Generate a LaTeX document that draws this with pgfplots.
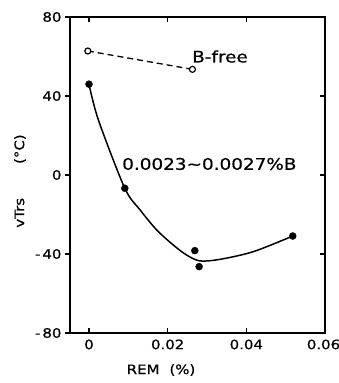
\documentclass[border=0pt]{standalone}
\usepackage{fontspec}
\setmainfont[FakeStretch=1.15, FakeBold=0.6]{DejaVu Sans}
\usepackage{pgfplots}
\pgfplotsset{compat=1.18}
\begin{document}
\begin{tikzpicture}
\path[use as bounding box] (-70pt,-50pt) rectangle (269pt,333pt);
\pgfplotsset{common/.style={
  scale only axis, width=255pt, height=316pt,
  xmin=-0.00483, xmax=0.06, ymin=-80, ymax=80,
  axis line style={line width=1.4pt},
  major tick length=5pt,
  tick style={line width=1.2pt, black},
  tick label style={font=\fontsize{13}{15}\selectfont},
  label style={font=\fontsize{13}{15}\selectfont},
  /pgf/number format/assume math mode=true,
}}
\begin{axis}[common,
  tick align=inside,
  xtick pos=both, ytick pos=right,
  xtick={0,0.02,0.04,0.06}, xticklabels={0,0.02,0.04,\hspace*{-3pt}0.06},
  scaled x ticks=false,
  ytick={-40,0,40}, yticklabels={},
  xticklabel style={yshift=-3pt},
  xlabel={REM\hspace{10pt}(\%)},
  xlabel style={at={(axis description cs:0.357,-0.117)}, anchor=center},
]
% B-free
\addplot[black, line width=1.3pt, dash pattern=on 6pt off 4pt, mark=*, mark size=3pt,
  mark options={solid, fill=white, line width=1.2pt}]
  coordinates {(-0.0003,62.8) (0.0263,53.5)};
% fitted curve
\addplot[black, line width=1.5pt, smooth, tension=0.5, no marks]
  coordinates {(0,46) (0.0024,27.8) (0.0091,-6.7) (0.013,-17.7) (0.0172,-27.8)
  (0.0214,-35.4) (0.0248,-40.5) (0.0282,-43.5) (0.0333,-42.7) (0.0418,-38.8) (0.0518,-30.9)};
% measured points with B
\addplot[only marks, mark=*, mark size=3.5pt, black]
  coordinates {(0,46) (0.0091,-6.7) (0.0269,-38.3) (0.028,-46.4) (0.0518,-30.9)};
\node[font=\fontsize{16}{18}\selectfont] at (axis cs:0.0306,5.6) {0.0023\textasciitilde0.0027\%B};
\node[font=\fontsize{16}{18}\selectfont] at (axis cs:0.0333,60) {B-free};
\end{axis}
\begin{axis}[common,
  hide x axis, axis y line*=left,
  tick align=outside,
  ytick={-80,-40,0,40,80},
  yticklabels={-\hspace{2pt}80,-\hspace{2pt}40,0,40,80},
  ylabel={vTrs\hspace{34pt}(°C)},
  ylabel style={at={(axis description cs:-0.196,0.481)}, anchor=center},
]
\end{axis}
\end{tikzpicture}
\end{document}
